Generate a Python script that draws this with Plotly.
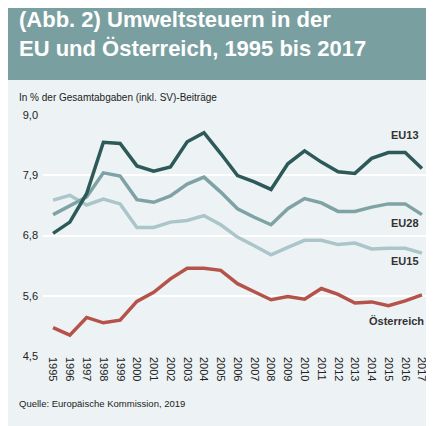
import plotly.graph_objects as go

years = list(range(1995, 2018))
eu13 = [6.79,7.0,7.53,8.49,8.47,8.05,7.95,8.03,8.5,8.67,8.28,7.87,7.75,7.61,8.09,8.33,8.12,7.94,7.91,8.19,8.3,8.3,8.0]
eu28 = [7.14,7.31,7.47,7.92,7.86,7.42,7.37,7.49,7.71,7.84,7.56,7.25,7.09,6.95,7.25,7.44,7.36,7.2,7.2,7.28,7.34,7.34,7.14]
eu15 = [7.41,7.5,7.32,7.43,7.34,6.9,6.9,7.0,7.03,7.12,6.95,6.72,6.56,6.39,6.53,6.66,6.66,6.58,6.61,6.5,6.51,6.51,6.42]
at = [5.03,4.89,5.22,5.12,5.17,5.52,5.69,5.94,6.14,6.14,6.1,5.85,5.7,5.55,5.61,5.56,5.76,5.65,5.49,5.51,5.44,5.53,5.64]
ytickvals = [4.5, 5.625, 6.75, 7.875, 9.0]
yticktext = ["4,5", "5,6", "6,8", "7,9", "9,0"]

T = 107  # top margin (plot top in px)
H = 241  # plot height px
S = 8    # rendering offset

series = [("EU15", eu15, "#abc6ca"), ("EU28", eu28, "#7fa3a5"), ("EU13", eu13, "#2d5a58"), ("Österreich", at, "#b5524a")]
fig = go.Figure()
for name, vals, col in series:
    fig.add_trace(go.Scatter(x=years, y=vals, mode="lines", name=name,
                             line=dict(color=col, width=3.5)))

labels = [("EU13", 2016, 8.62), ("EU28", 2016, 6.98), ("EU15", 2016, 6.28), ("Österreich", 2015.5, 5.15)]
for t, x, y in labels:
    fig.add_annotation(x=x, y=y, text="<b>%s</b>" % t, showarrow=False,
                       font=dict(size=11, color="#333", family="Liberation Sans"))

def py(ref_y):
    # reference pixel y -> paper coordinate
    return 1 + (T + S - ref_y) / H

fig.add_shape(type="rect", xref="paper", yref="paper", x0=-35/388, x1=1+11/388,
              y0=py(80), y1=py(-10), fillcolor="#7a9fa1", line_width=0, layer="below")
fig.add_annotation(xref="paper", yref="paper", x=-26/388, y=py(5), xanchor="left", yanchor="top",
                   align="left", showarrow=False,
                   text="<b>(Abb. 2) Umweltsteuern in der<br>EU und Österreich, 1995 bis 2017</b>",
                   font=dict(size=22, color="white", family="Liberation Sans"))
fig.add_annotation(xref="paper", yref="paper", x=-26/388, y=py(97), xanchor="left", yanchor="middle",
                   showarrow=False, text="In % der Gesamtabgaben (inkl. SV)-Beiträge",
                   font=dict(size=10, color="#222", family="Liberation Sans"))
fig.add_annotation(xref="paper", yref="paper", x=-26/388, y=py(403), xanchor="left", yanchor="middle",
                   showarrow=False, text="Quelle: Europäische Kommission, 2019",
                   font=dict(size=9.5, color="#222", family="Liberation Sans"))

fig.update_layout(width=434, height=426, margin=dict(l=35, r=11, t=T, b=426 - T - H),
                  paper_bgcolor="#edf2f4", plot_bgcolor="#edf2f4", showlegend=False,
                  font=dict(family="Liberation Sans", color="#222"))
fig.update_xaxes(range=[1994.4, 2017.54], tickvals=years, tickangle=90, showgrid=False,
                 zeroline=False, tickfont=dict(size=11), ticks="")
fig.update_yaxes(range=[4.5, 9.0], tickvals=ytickvals, ticktext=yticktext, gridcolor="white",
                 gridwidth=2, zeroline=False, tickfont=dict(size=11), ticklabelstandoff=4)
fig.write_html("out.html")
